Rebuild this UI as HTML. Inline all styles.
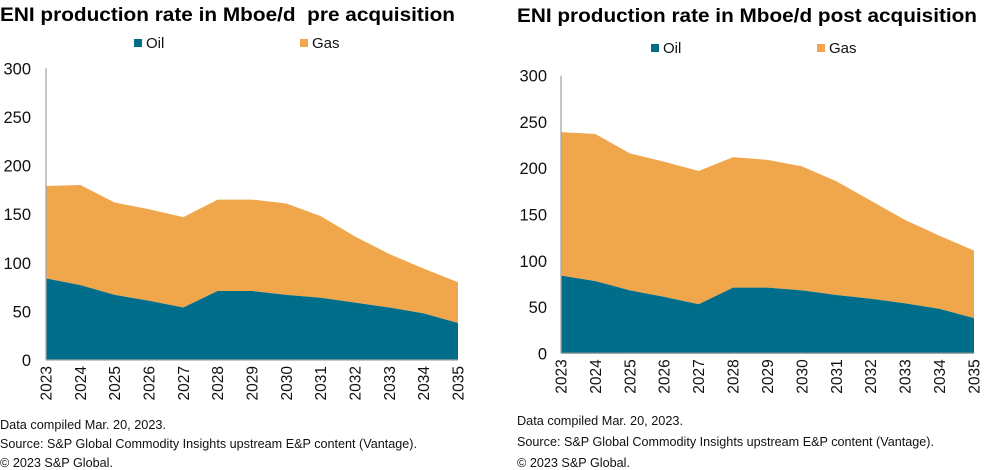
<!DOCTYPE html>
<html><head><meta charset="utf-8">
<style>
html,body{margin:0;padding:0;background:#fff;}
svg{display:block;font-family:"Liberation Sans",Arial,sans-serif;}
</style></head>
<body>
<svg id="c" width="987" height="470" viewBox="0 0 987 470">
<text x="0" y="21" font-size="19" font-weight="bold" textLength="455" lengthAdjust="spacingAndGlyphs">ENI production rate in Mboe/d&#160; pre acquisition</text>
<text x="517" y="22" font-size="19" font-weight="bold" textLength="460" lengthAdjust="spacingAndGlyphs">ENI production rate in Mboe/d post acquisition</text>
<g>
<rect x="134" y="39" width="8" height="8" fill="#006e8a"/>
<text x="146" y="48" font-size="15" fill="#111">Oil</text>
<rect x="300" y="39" width="8" height="8" fill="#f0a74c"/>
<text x="312" y="48" font-size="15" fill="#111">Gas</text>
</g>
<g>
<rect x="651" y="44" width="8" height="8" fill="#006e8a"/>
<text x="663" y="53" font-size="15" fill="#111">Oil</text>
<rect x="817" y="44" width="8" height="8" fill="#f0a74c"/>
<text x="829" y="53" font-size="15" fill="#111">Gas</text>
</g>
<g font-size="12.5" fill="#111">
<text x="0" y="429" textLength="166" lengthAdjust="spacingAndGlyphs">Data compiled Mar. 20, 2023.</text>
<text x="0" y="448" textLength="417" lengthAdjust="spacingAndGlyphs">Source: S&amp;P Global Commodity Insights upstream E&amp;P content (Vantage).</text>
<text x="0" y="467" textLength="113" lengthAdjust="spacingAndGlyphs">© 2023 S&amp;P Global.</text>
</g>
<g font-size="12.5" fill="#111">
<text x="517" y="425" textLength="166" lengthAdjust="spacingAndGlyphs">Data compiled Mar. 20, 2023.</text>
<text x="517" y="446" textLength="417" lengthAdjust="spacingAndGlyphs">Source: S&amp;P Global Commodity Insights upstream E&amp;P content (Vantage).</text>
<text x="517" y="467" textLength="113" lengthAdjust="spacingAndGlyphs">© 2023 S&amp;P Global.</text>
</g>
<g id="left"></g>
<g id="right"></g>
</svg>
<script>
const years = ["2023","2024","2025","2026","2027","2028","2029","2030","2031","2032","2033","2034","2035"];
const yTicks = [0,50,100,150,200,250,300];
const preOil = [84,77,67,61,54,71,71,67,64,59,54,48,38];
const preTotal = [179,180,162,155,147,165,165,161,148,127,109,94,80];
const postOil = [84,78,68,61,53,71,71,68,63,59,54,48,38];
const postTotal = [239,237,216,207,197,212,209,202,186,165,144,127,111];

const NS="http://www.w3.org/2000/svg";
function mk(tag,attrs,parent){const e=document.createElementNS(NS,tag);for(const k in attrs)e.setAttribute(k,attrs[k]);parent.appendChild(e);return e;}

function draw(g,cfg,oil,total){
  const n=years.length;
  const xs=i=>cfg.x0+(cfg.x1-cfg.x0)*i/(n-1);
  const ys=v=>cfg.y0-(cfg.y0-cfg.yTop)*v/300;
  let gasPts=[],oilPts=[];
  for(let i=0;i<n;i++)gasPts.push(xs(i)+","+ys(total[i]));
  for(let i=n-1;i>=0;i--)gasPts.push(xs(i)+","+ys(oil[i]));
  const gas=mk("polygon",{points:gasPts.join(" "),fill:"#f0a74c"},g);
  
  
  for(let i=0;i<n;i++)oilPts.push(xs(i)+","+ys(oil[i]));
  oilPts.push(xs(n-1)+","+ys(0));oilPts.push(xs(0)+","+ys(0));
  const o=mk("polygon",{points:oilPts.join(" "),fill:"#006e8a"},g);
  
  
  const ya=mk("line",{x1:cfg.x0,y1:cfg.yTop,x2:cfg.x0,y2:cfg.y0,stroke:"#a6a6a6","stroke-width":1.3},g);
  
  
  const xa=mk("line",{x1:cfg.x0,y1:cfg.y0,x2:cfg.x1,y2:cfg.y0,stroke:"#a6a6a6","stroke-width":1.3},g);
  
  
  yTicks.forEach(v=>{
    const t=mk("text",{x:cfg.labX,y:ys(v)+6,"font-size":16.5,"text-anchor":"end",fill:"#111"},g);
    t.textContent=v;
    
    
  });
  years.forEach((yr,i)=>{
    const x=xs(i)+5.5, y=cfg.y0+6;
    const t=mk("text",{x:x,y:y,"font-size":15.5,"text-anchor":"end",fill:"#111",transform:`rotate(-90 ${x} ${y})`},g);
    t.textContent=yr;
    
    
  });
}
draw(document.getElementById("left"),{x0:46,x1:458,y0:360,yTop:68.3,labX:31},preOil,preTotal);
draw(document.getElementById("right"),{x0:561,x1:974,y0:353.3,yTop:75.7,labX:547},postOil,postTotal);
</script>
</body></html>
